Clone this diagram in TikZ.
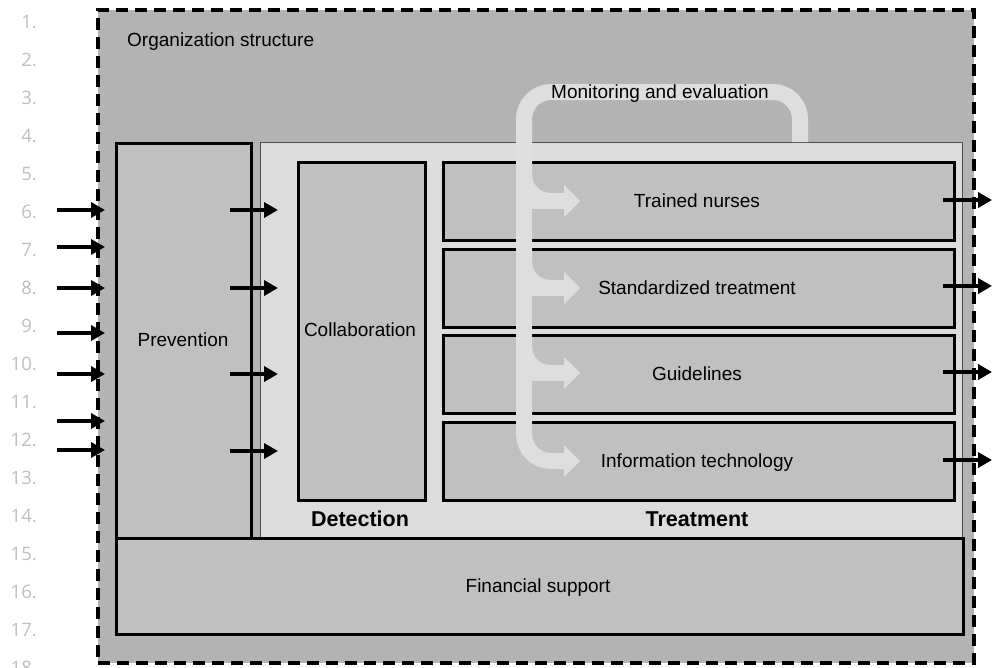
\documentclass[tikz,border=0pt]{standalone}
\usepackage{fontspec}
\setmainfont{Liberation Sans}
\newfontfamily\numfont{Open Sans}
\usetikzlibrary{arrows.meta}
\definecolor{outerfill}{HTML}{B3B3B3}
\definecolor{boxfill}{HTML}{C0C0C0}
\definecolor{panelfill}{HTML}{DCDCDC}
\definecolor{bandcol}{HTML}{DEDEDE}
\definecolor{numcol}{HTML}{BFBFBF}
\tikzset{
  box/.style={draw=black, line width=3pt, fill=boxfill, inner sep=0pt, anchor=north west},
  txt/.style={font=\fontsize{19}{22}\selectfont, inner sep=0pt, text depth=0pt},
  btxt/.style={font=\fontsize{21.5}{24}\selectfont\bfseries, inner sep=0pt, text depth=0pt},
  flowarrow/.style={line width=4pt, -{Triangle[length=14pt,width=15pt]}},
  band/.style={line width=16pt, draw=bandcol},
  numlabel/.style={font=\numfont\fontsize{18.5}{20}\selectfont, text=numcol, anchor=east, inner sep=0pt, text depth=0pt}
}
\begin{document}
\begin{tikzpicture}[x=1pt,y=-1pt]
\useasboundingbox (0,0) rectangle (993,667);
% line numbers
\foreach \i in {1,...,18} \node[numlabel] (ln\i) at (37,{22+38*(\i-1)}) {\i.};
% outer organization structure
\node[draw=black, fill=outerfill, line width=3.5pt, dash pattern=on 12pt off 7pt,
      minimum width=876pt, minimum height=653pt, anchor=north west, inner sep=0pt] (org) at (96,8) {};
\node[txt, anchor=west] (orglabel) at (127,40) {Organization structure};
% detection/treatment panel
\node[draw=black!70, line width=1.2pt, fill=panelfill, minimum width=702pt, minimum height=395pt,
      anchor=north west, inner sep=0pt] (panel) at (260,142) {};
% prevention
\node[box, minimum width=135pt, minimum height=395pt] (prev) at (115,142) {};
\node[txt] (prevlabel) at (183,340) {Prevention};
% collaboration
\node[box, minimum width=127pt, minimum height=338pt] (collab) at (297,161) {};
\node[txt] (collablabel) at (360,330) {Collaboration};
% treatment boxes
\node[box, minimum width=511pt, minimum height=78pt] (tn) at (442,161) {};
\node[box, minimum width=511pt, minimum height=78pt] (sd) at (442,248) {};
\node[box, minimum width=511pt, minimum height=78pt] (gl) at (442,334) {};
\node[box, minimum width=511pt, minimum height=78pt] (it) at (442,421) {};
\node[txt] (tnl) at (697,201) {Trained nurses};
\node[txt] (sdl) at (697,288) {Standardized treatment};
\node[txt] (gll) at (697,374) {Guidelines};
\node[txt] (itl) at (697,461) {Information technology};
% financial support
\node[box, minimum width=847pt, minimum height=96pt] (fin) at (115,537) {};
\node[txt] (finl) at (538,586) {Financial support};
% section labels
\node[btxt] (det) at (360,519) {Detection};
\node[btxt] (treat) at (697,519) {Treatment};
% monitoring and evaluation band
\draw[band, rounded corners=27pt] (800,142) -- (800,92) -- (524,92) -- (524,461) -- (566,461);
\fill[bandcol] (564,445) -- (580,461) -- (564,477) -- cycle;
\foreach \y in {201,288,373} {
  \fill[bandcol] (524,{\y-8}) rectangle (566,{\y+8});
  \fill[bandcol] (532,{\y-27}) .. controls (532,{\y-16}) and (540,{\y-8}) .. (551,{\y-8}) -- (532,{\y-8}) -- cycle;
  \fill[bandcol] (564,{\y-16}) -- (580,\y) -- (564,{\y+16}) -- cycle;
}
\node[txt] (mon) at (660,92) {Monitoring and evaluation};
% input arrows
\foreach \y [count=\i] in {210,247,288,333,374,421,450} {
  \coordinate (inS\i) at (57,\y);
  \coordinate (inE\i) at (105,\y);
  \draw[flowarrow] (inS\i) -- (inE\i);
}
% arrows from prevention into panel
\foreach \y [count=\i] in {210,288,374,451} {
  \coordinate (mS\i) at (230,\y);
  \coordinate (mE\i) at (278,\y);
  \draw[flowarrow] (mS\i) -- (mE\i);
}
% output arrows
\foreach \y [count=\i] in {200,286,372,460} {
  \coordinate (oS\i) at (943,\y);
  \coordinate (oE\i) at (992,\y);
  \draw[flowarrow] (oS\i) -- (oE\i);
}
\end{tikzpicture}
\end{document}
